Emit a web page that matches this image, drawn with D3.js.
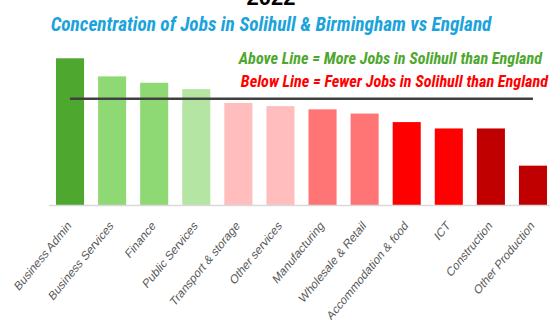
<!DOCTYPE html>
<html>
<head>
<meta charset="utf-8">
<script src="https://cdn.jsdelivr.net/npm/d3@7"></script>
<style>
  html, body { margin: 0; padding: 0; background: #fff; overflow: hidden; }
  svg { display: block; }
</style>
</head>
<body>
<svg id="chart" width="550" height="320"></svg>
<script>
// Location quotients by sector (1.0 = same share of jobs as England)
const categories = [
  "Business Admin", "Business Services", "Finance", "Public Services",
  "Transport & storage", "Other services", "Manufacturing", "Wholesale & Retail",
  "Accommodation & food", "ICT", "Construction", "Other Production"
];
const values = [1.38, 1.21, 1.15, 1.09, 0.96, 0.93, 0.90, 0.86, 0.78, 0.72, 0.72, 0.37];
const barColors = [
  "#4ea72e", "#8ed973", "#8ed973", "#b4e5a2",
  "#ffbdbd", "#ffbdbd", "#ff7575", "#ff7575",
  "#ff0000", "#ff0000", "#c00000", "#c00000"
];
const englandLevel = categories.map(() => 1.0);

const svg = d3.select("#chart");
const condensed = "'Liberation Sans Narrow', 'Arial Narrow', 'Roboto Condensed', sans-serif";

const x = d3.scaleBand()
  .domain(categories)
  .range([49, 554])
  .paddingInner(0.333)
  .paddingOuter(0.166);

const y = d3.scaleLinear()
  .domain([0, 1])
  .range([205, 98.7]);

// Bars
svg.append("g")
  .selectAll("rect")
  .data(categories)
  .join("rect")
  .attr("x", d => x(d))
  .attr("width", x.bandwidth())
  .attr("y", (d, i) => y(values[i]))
  .attr("height", (d, i) => y(0) - y(values[i]))
  .attr("fill", (d, i) => barColors[i]);

// Category axis (labels slanted, slightly tall)
const xAxis = svg.append("g")
  .attr("transform", `translate(0,${y(0)})`)
  .call(d3.axisBottom(x).tickSize(0).tickPadding(0));
xAxis.select(".domain")
  .attr("stroke", "#d9d9d9")
  .attr("stroke-width", 1.5)
  .attr("d", "M49,0.5H554");
xAxis.selectAll(".tick text")
  .attr("fill", "#595959")
  .style("font-family", "'Liberation Sans', Arial, sans-serif")
  .style("font-size", "10.6px")
  .attr("text-anchor", "end")
  .attr("dy", null)
  .attr("y", 0)
  .attr("transform", "translate(2,21.5) scale(1,1.22) rotate(-45)");

// England reference line
const line = d3.line()
  .x(d => x(d[0]) + x.bandwidth() / 2)
  .y(d => y(d[1]));
svg.append("path")
  .datum(categories.map((c, i) => [c, englandLevel[i]]))
  .attr("d", line)
  .attr("fill", "none")
  .attr("stroke", "#404040")
  .attr("stroke-width", 2.5);

// Titles
svg.append("text")
  .attr("x", 271).attr("y", 5)
  .attr("text-anchor", "middle")
  .style("font-family", "'Liberation Sans', Arial, sans-serif")
  .style("font-weight", "bold")
  .style("font-size", "22px")
  .attr("fill", "#000")
  .text("2022");

svg.append("text")
  .attr("x", 271).attr("y", 31)
  .attr("text-anchor", "middle")
  .style("font-family", condensed)
  .style("font-weight", "bold")
  .style("font-style", "italic")
  .style("font-size", "19.3px")
  .attr("fill", "#1ba3dc")
  .text("Concentration of Jobs in  Solihull & Birmingham vs England");

// Legend notes
svg.append("text")
  .attr("x", 542).attr("y", 64)
  .attr("text-anchor", "end")
  .style("font-family", condensed)
  .style("font-weight", "bold")
  .style("font-style", "italic")
  .style("font-size", "16.2px")
  .attr("fill", "#4ea72e")
  .text("Above Line = More Jobs in Solihull than England");

svg.append("text")
  .attr("x", 548).attr("y", 87)
  .attr("text-anchor", "end")
  .style("font-family", condensed)
  .style("font-weight", "bold")
  .style("font-style", "italic")
  .style("font-size", "16.2px")
  .attr("fill", "#ff0000")
  .text("Below Line = Fewer Jobs in Solihull than England");
</script>
</body>
</html>
